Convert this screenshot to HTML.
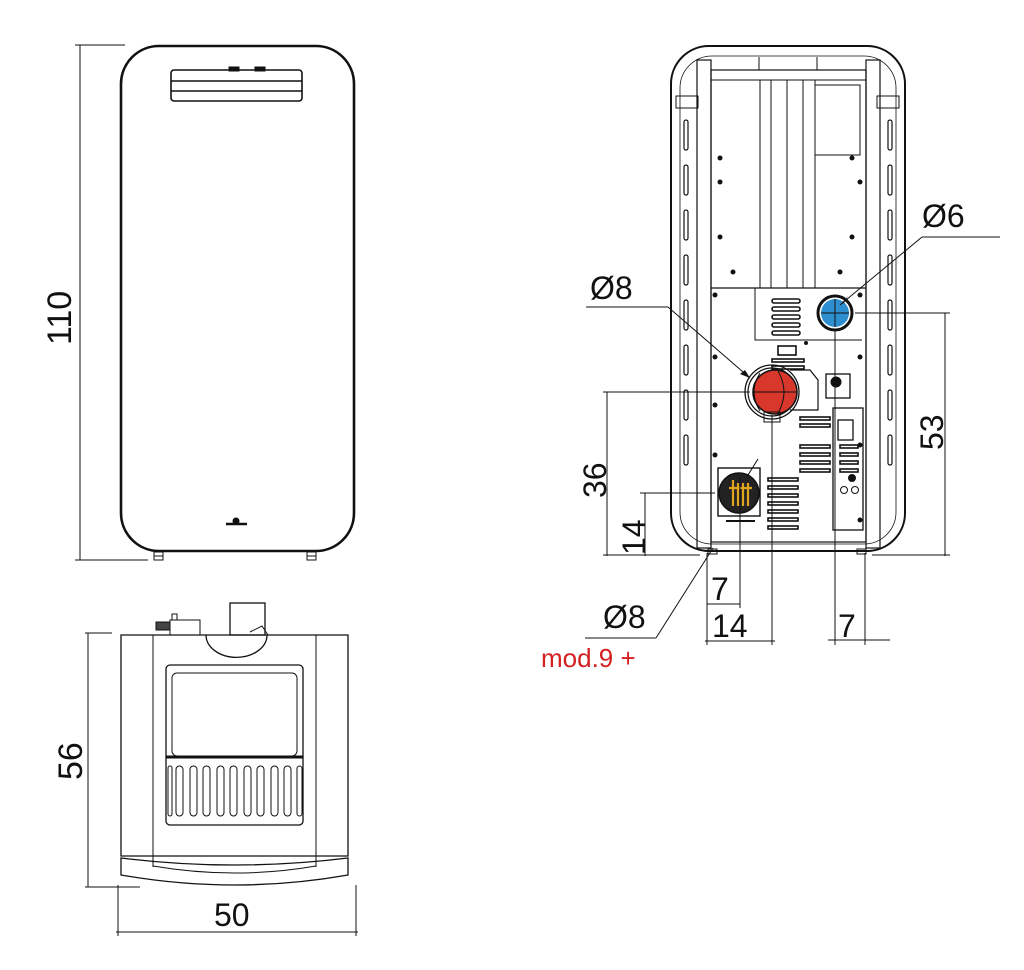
<!DOCTYPE html>
<html><head><meta charset="utf-8"><style>
html,body{margin:0;padding:0;background:#fff;}
svg{display:block;}
text{font-family:"Liberation Sans",sans-serif;fill:#111;}
</style></head><body>
<svg width="1024" height="970" viewBox="0 0 1024 970" xmlns="http://www.w3.org/2000/svg">
<g fill="none" stroke="#111" stroke-width="1">
<!-- ========== FRONT VIEW ========== -->
<line x1="75" y1="45" x2="125" y2="45"/>
<line x1="80" y1="45" x2="80" y2="560"/>
<line x1="75" y1="560" x2="148" y2="560"/>
<rect x="121" y="46" width="233" height="505" rx="38" stroke-width="2.6"/>
<rect x="171" y="70" width="131" height="31" rx="3" stroke-width="1.6"/>
<line x1="171" y1="81" x2="302" y2="81" stroke-width="1.4"/>
<line x1="171" y1="91" x2="302" y2="91" stroke-width="1.4"/>
<rect x="229" y="67" width="10" height="4" fill="#111"/>
<rect x="255" y="67" width="10" height="4" fill="#111"/>
<line x1="226" y1="524" x2="247" y2="524" stroke-width="2.5"/>
<circle cx="236" cy="521" r="3" fill="#111"/>
<rect x="154" y="552" width="9" height="4"/><rect x="154" y="556" width="9" height="4"/>
<rect x="307" y="552" width="9" height="4"/><rect x="307" y="556" width="9" height="4"/>

<!-- ========== TOP VIEW (bottom left) ========== -->
<line x1="85" y1="633" x2="112" y2="633"/>
<line x1="88" y1="633" x2="88" y2="887"/>
<line x1="85" y1="887" x2="140" y2="887"/>
<line x1="118" y1="885" x2="118" y2="936"/>
<line x1="356" y1="885" x2="356" y2="936"/>
<line x1="116" y1="932" x2="358" y2="932"/>
<path d="M121 635 L348 635 L348 856 L121 856 Z" stroke-width="1.3"/>
<line x1="153" y1="635" x2="153" y2="867"/>
<line x1="316" y1="635" x2="316" y2="867"/>
<path d="M206 635 A30 22 0 0 0 267 635" stroke-width="1.3"/>
<rect x="230" y="603" width="35" height="32" stroke-width="1.3"/>
<path d="M250 632 L262 626 L268 635"/>
<rect x="170" y="620" width="30" height="15"/>
<rect x="156" y="622" width="14" height="8" fill="#444"/>
<rect x="172" y="614" width="5" height="6"/>
<rect x="166" y="665" width="137" height="160" rx="4" stroke-width="1.3"/>
<rect x="172" y="673" width="125" height="83" rx="5"/>
<line x1="166" y1="757" x2="303" y2="757" stroke-width="3"/>
<g stroke-width="1">
<rect x="176" y="766" width="7" height="50" rx="3.5"/><rect x="190" y="766" width="7" height="50" rx="3.5"/>
<rect x="203" y="766" width="7" height="50" rx="3.5"/><rect x="217" y="766" width="7" height="50" rx="3.5"/>
<rect x="230" y="766" width="7" height="50" rx="3.5"/><rect x="244" y="766" width="7" height="50" rx="3.5"/>
<rect x="257" y="766" width="7" height="50" rx="3.5"/><rect x="271" y="766" width="7" height="50" rx="3.5"/>
<rect x="284" y="766" width="7" height="50" rx="3.5"/><rect x="297" y="766" width="5" height="50" rx="2.5"/>
<rect x="168" y="766" width="4" height="50" rx="2"/>
</g>
<path d="M121 858 L121 875 Q235 895 348 875 L348 858 Q235 872 121 858 Z" stroke-width="1.3"/>
<path d="M153 866 Q235 880 316 866"/>

<!-- ========== BACK VIEW ========== -->
<rect x="671" y="46" width="234" height="505" rx="38" stroke-width="2"/>
<rect x="680" y="56" width="216" height="488" rx="32" stroke-width="0.8"/>
<rect x="697" y="60" width="14" height="488" stroke-width="1.2"/>
<rect x="866" y="60" width="14" height="488" stroke-width="1.2"/>
<rect x="711" y="70" width="155" height="472" stroke-width="1.2"/>
<line x1="711" y1="80" x2="866" y2="80"/>
<line x1="759" y1="57" x2="759" y2="70"/><line x1="817" y1="57" x2="817" y2="70"/>
<line x1="711" y1="288" x2="866" y2="288" stroke-width="1.2"/>
<line x1="760" y1="80" x2="760" y2="288"/>
<line x1="771" y1="80" x2="771" y2="288"/>
<line x1="787" y1="80" x2="787" y2="288"/>
<line x1="803" y1="80" x2="803" y2="288"/>
<line x1="815" y1="80" x2="815" y2="288"/>
<rect x="815" y="85" width="45" height="70"/>
<path d="M755 288 L755 340 L862 340"/>
<g stroke-width="1.2">
<rect x="684" y="120" width="4" height="30" rx="2"/><rect x="684" y="165" width="4" height="30" rx="2"/>
<rect x="684" y="210" width="4" height="30" rx="2"/><rect x="684" y="255" width="4" height="30" rx="2"/>
<rect x="684" y="300" width="4" height="30" rx="2"/><rect x="684" y="345" width="4" height="30" rx="2"/>
<rect x="684" y="390" width="4" height="30" rx="2"/><rect x="684" y="435" width="4" height="30" rx="2"/>
<rect x="888" y="120" width="4" height="30" rx="2"/><rect x="888" y="165" width="4" height="30" rx="2"/>
<rect x="888" y="210" width="4" height="30" rx="2"/><rect x="888" y="255" width="4" height="30" rx="2"/>
<rect x="888" y="300" width="4" height="30" rx="2"/><rect x="888" y="345" width="4" height="30" rx="2"/>
<rect x="888" y="390" width="4" height="30" rx="2"/><rect x="888" y="435" width="4" height="30" rx="2"/>
</g>
<rect x="676" y="96" width="22" height="12"/><rect x="877" y="96" width="22" height="12"/>
<g fill="#111" stroke="none">
<circle cx="720" cy="158" r="2.5"/><circle cx="720" cy="182" r="2.5"/><circle cx="720" cy="237" r="2.5"/>
<circle cx="733" cy="272" r="2.5"/><circle cx="852" cy="158" r="2.5"/><circle cx="852" cy="237" r="2.5"/>
<circle cx="840" cy="272" r="2.5"/><circle cx="860" cy="182" r="2.5"/><circle cx="715" cy="295" r="2.5"/>
<circle cx="715" cy="357" r="2.5"/><circle cx="715" cy="405" r="2.5"/><circle cx="715" cy="455" r="2.5"/>
<circle cx="860" cy="295" r="2.5"/><circle cx="860" cy="357" r="2.5"/><circle cx="806" cy="343" r="2"/>
<circle cx="860" cy="445" r="2.5"/><circle cx="860" cy="520" r="2.5"/>
</g>
<g stroke-width="1.6">
<rect x="772" y="299" width="28" height="4" rx="2"/><rect x="772" y="307" width="28" height="4" rx="2"/>
<rect x="772" y="315" width="28" height="4" rx="2"/><rect x="772" y="323" width="28" height="4" rx="2"/>
<rect x="772" y="331" width="28" height="4" rx="2"/>
<rect x="778" y="346" width="18" height="9"/>
<rect x="772" y="359" width="32" height="3"/><rect x="772" y="366" width="32" height="3"/>
<rect x="800" y="417" width="30" height="3"/><rect x="800" y="424" width="30" height="3"/>
<rect x="800" y="445" width="30" height="3"/><rect x="800" y="453" width="30" height="3"/>
<rect x="800" y="461" width="30" height="3"/><rect x="800" y="469" width="30" height="3"/>
<rect x="768" y="478" width="30" height="3"/><rect x="768" y="486" width="30" height="3"/>
<rect x="768" y="494" width="30" height="3"/><rect x="768" y="502" width="30" height="3"/>
<rect x="768" y="510" width="30" height="3"/><rect x="768" y="518" width="30" height="3"/>
<rect x="768" y="526" width="30" height="3"/>
<rect x="840" y="445" width="18" height="3"/><rect x="840" y="453" width="18" height="3"/>
<rect x="840" y="461" width="18" height="3"/><rect x="840" y="469" width="18" height="3"/>
</g>
<rect x="833" y="408" width="30" height="122" stroke-width="1.3"/>
<rect x="838" y="420" width="15" height="20" stroke-width="1.3"/>
<circle cx="844" cy="490" r="3.5"/><circle cx="855" cy="490" r="3.5"/>
<circle cx="852" cy="478" r="3.5" fill="#111"/>
<rect x="826" y="374" width="24" height="24" stroke-width="1.3"/>
<circle cx="836" cy="382" r="5" fill="#111"/>
<path d="M790 370 L810 370 L818 380 L818 410 L790 410" stroke-width="1.2"/>
<circle cx="772" cy="392" r="27" stroke-width="1.3"/>
<circle cx="772" cy="392" r="24" stroke-width="1.2"/>
<circle cx="775" cy="392" r="22" fill="#d8382c" stroke-width="1.5"/>
<path d="M760 373 Q748 392 760 411 M778 371 Q790 392 778 413" stroke="#111"/>
<line x1="753" y1="392" x2="797" y2="392"/>
<rect x="764" y="412" width="16" height="10"/>
<circle cx="835" cy="313" r="17" stroke-width="3"/>
<circle cx="835" cy="313" r="14" fill="#2e8fd0" stroke="none"/>
<line x1="821" y1="313" x2="849" y2="313"/><line x1="835" y1="299" x2="835" y2="327"/>
<rect x="718" y="468" width="42" height="48" stroke-width="1.4"/>
<circle cx="739" cy="493" r="20" fill="#222" stroke-width="1.5"/>
<g stroke="#e0a520" stroke-width="2.2">
<line x1="733" y1="480" x2="733" y2="506"/><line x1="738" y1="483" x2="738" y2="506"/>
<line x1="743" y1="483" x2="743" y2="506"/><line x1="748" y1="483" x2="748" y2="506"/>
<line x1="729" y1="488" x2="752" y2="488"/>
</g>
<line x1="726" y1="521" x2="755" y2="521" stroke-width="2"/>
<rect x="708" y="549" width="9" height="5"/><rect x="857" y="549" width="9" height="5"/>

<line x1="1000" y1="237" x2="922" y2="237"/>
<line x1="922" y1="237" x2="840" y2="305"/>
<line x1="586" y1="307" x2="668" y2="307"/>
<line x1="668" y1="307" x2="750" y2="378"/>
<line x1="855" y1="313" x2="950" y2="313"/>
<line x1="945" y1="313" x2="945" y2="556"/>
<line x1="872" y1="555" x2="950" y2="555"/>
<line x1="603" y1="392" x2="750" y2="392"/>
<line x1="607" y1="392" x2="607" y2="556"/>
<line x1="603" y1="555" x2="700" y2="555"/>
<line x1="640" y1="493" x2="715" y2="493"/>
<line x1="645" y1="493" x2="645" y2="556"/>
<line x1="707" y1="553" x2="707" y2="645"/>
<line x1="740" y1="478" x2="740" y2="608"/>
<line x1="707" y1="604" x2="740" y2="604"/>
<line x1="772" y1="415" x2="772" y2="645"/>
<line x1="705" y1="641" x2="775" y2="641"/>
<line x1="835" y1="330" x2="835" y2="645"/>
<line x1="865" y1="553" x2="865" y2="645"/>
<line x1="828" y1="640" x2="890" y2="640"/>
<line x1="585" y1="638" x2="656" y2="638"/>
<line x1="656" y1="638" x2="713" y2="548"/>
<line x1="748" y1="475" x2="758" y2="459"/>
</g>
<path d="M840 305 L848 296 L844 303 Z" fill="#111"/>
<path d="M750 378 L740 374 L745 370 Z" fill="#111"/>

<text x="0" y="0" font-size="34" transform="translate(71,345) rotate(-90)">110</text>
<text x="0" y="0" font-size="34" transform="translate(82,780) rotate(-90)">56</text>
<text x="214" y="926" font-size="32">50</text>
<text x="922" y="227" font-size="32">Ø6</text>
<text x="590" y="299" font-size="32">Ø8</text>
<text x="0" y="0" font-size="32" transform="translate(943,450) rotate(-90)">53</text>
<text x="0" y="0" font-size="32" transform="translate(606,498) rotate(-90)">36</text>
<text x="0" y="0" font-size="32" transform="translate(645,555) rotate(-90)">14</text>
<text x="711" y="600" font-size="32">7</text>
<text x="712" y="637" font-size="32">14</text>
<text x="838" y="637" font-size="32">7</text>
<text x="603" y="628" font-size="32">Ø8</text>
<text x="541" y="667" font-size="26" style="fill:#d42020">mod.9 +</text>
</svg>
</body></html>
